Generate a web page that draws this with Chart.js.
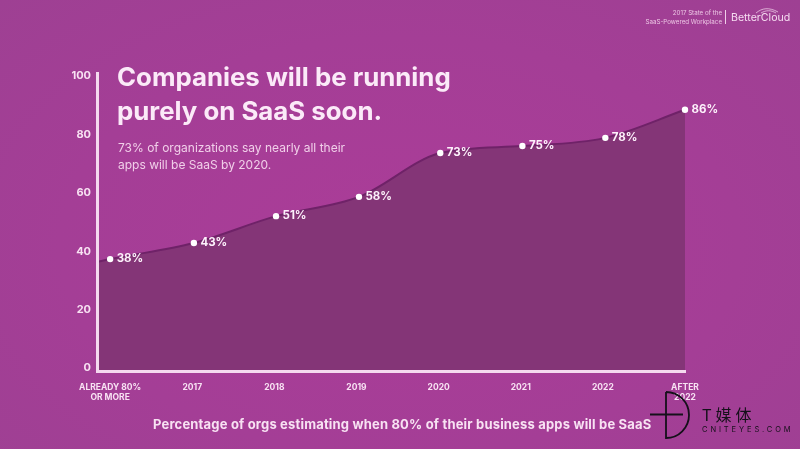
<!DOCTYPE html>
<html>
<head>
<meta charset="utf-8">
<script src="https://cdn.jsdelivr.net/npm/chart.js@4"></script>
<style>
  html, body { margin: 0; padding: 0; }
  #stage {
    position: relative; width: 800px; height: 449px; overflow: hidden;
    background: radial-gradient(ellipse at 50% 55%, #ab3c98 0%, #a43e96 60%, #9e4093 100%);
    font-family: Inter, sans-serif;
  }
  #chart { position: absolute; left: 0; top: 0; }
  .txt { position: absolute; white-space: nowrap; }
  #title { left: 117px; top: 60px; font-size: 25.8px; line-height: 34px; font-weight: 700; color: #fbeaf8; }
  #sub { left: 118px; top: 140px; font-size: 12px; line-height: 16.5px; color: #f1cfe9; }
  #caption { left: 153px; top: 416px; font-size: 13px; letter-spacing: 0.18px; font-weight: 700; color: #f8e2f3; }
  #hdr { right: 78px; top: 9px; font-size: 6.2px; line-height: 8.5px; text-align: right; color: #ecc6e4; }
  #sep { position: absolute; left: 725px; top: 10px; width: 1px; height: 14px; background: #f0cfe9; }
  #brand { left: 731px; top: 11px; font-size: 10.6px; color: #f6dcf1; }
  #swoosh { position: absolute; left: 755px; top: 7px; }
  #wmA { left: 702px; top: 402px; font-family: "Noto Sans CJK SC"; font-size: 16px; letter-spacing: 4px; color: #15101a; }
  #wmB { left: 702px; top: 425px; font-size: 7.5px; letter-spacing: 2.9px; color: #15101a; }
  #logo { position: absolute; left: 645px; top: 388px; }
</style>
</head>
<body>
<div id="stage">
  <canvas id="chart" width="800" height="449"></canvas>
  <div class="txt" id="title">Companies will be running<br>purely on SaaS soon.</div>
  <div class="txt" id="sub">73% of organizations say nearly all their<br>apps will be SaaS by 2020.</div>
  <div class="txt" id="caption">Percentage of orgs estimating when 80% of their business apps will be SaaS</div>
  <div class="txt" id="hdr">2017 State of the<br>SaaS-Powered Workplace</div>
  <div id="sep"></div>
  <div class="txt" id="brand">BetterCloud</div>
  <svg id="swoosh" width="26" height="8" viewBox="0 0 26 8" fill="none" stroke="#f6dcf1" stroke-width="0.7">
    <path d="M1 6 C7 1 14 0 23 5"/>
    <path d="M6 6 C11 3 16 3 21 6"/>
  </svg>
  <svg id="logo" width="50" height="54" viewBox="645 388 50 54" fill="none" stroke="#15101a" stroke-width="1.8">
    <path d="M666 392 V438 A23 23 0 0 0 666 392"/>
    <path d="M650 414.5 H683"/>
  </svg>
  <div class="txt" id="wmA">T媒体</div>
  <div class="txt" id="wmB">CNITEYES.COM</div>
</div>
<script>
// categories and ticks
const categories = [['ALREADY 80%', 'OR MORE'], '2017', '2018', '2019', '2020', '2021', '2022', ['AFTER', '2022']];
const yTicks = [0, 20, 40, 60, 80, 100];

// values as printed, and where each point actually sits in the picture
const printedValues = [38, 43, 51, 58, 73, 75, 78, 86];
const plottedValues = [37.3, 42.8, 52, 58.6, 73.6, 76, 78.8, 88.4];
const plottedSlots = [0, 1.02, 2.02, 3.03, 4.02, 5.02, 6.03, 7];
const leadIn = { x: -0.16, y: 36.3 };

const COLORS = {
  axis: '#f5d9ef',
  tick: '#f8e2f3',
  fill: '#843577',
  line: '#6f2268',
  point: '#ffffff',
  label: '#fdf1fb',
};
const FONT = 'Inter, sans-serif';

const linePoints = [leadIn].concat(plottedValues.map((v, i) => ({ x: plottedSlots[i], y: v })));

const valueLabels = {
  id: 'valueLabels',
  afterDatasetsDraw(chart) {
    const { ctx } = chart;
    const pts = chart.getDatasetMeta(0).data;
    ctx.save();
    ctx.font = '700 11.5px ' + FONT;
    ctx.fillStyle = COLORS.label;
    ctx.textBaseline = 'middle';
    printedValues.forEach((v, i) => {
      const p = pts[i + 1];
      ctx.fillText(v + '%', p.x + 6.5, p.y - 0.5);
    });
    ctx.restore();
  },
};

new Chart(document.getElementById('chart'), {
  type: 'line',
  data: {
    datasets: [{
      data: linePoints,
      clip: false,
      borderColor: COLORS.line,
      borderWidth: 2,
      backgroundColor: COLORS.fill,
      fill: 'start',
      cubicInterpolationMode: 'monotone',
      pointBackgroundColor: COLORS.point,
      pointBorderWidth: 0,
      pointRadius: ctx => (ctx.dataIndex === 0 ? 0 : 3.2),
    }],
  },
  options: {
    responsive: false,
    animation: false,
    layout: { padding: { left: 0, top: 73, right: 115, bottom: 18 } },
    plugins: { legend: { display: false }, tooltip: { enabled: false } },
    scales: {
      x: {
        type: 'linear',
        min: leadIn.x,
        max: categories.length - 1,
        afterBuildTicks: s => { s.ticks = categories.map((c, i) => ({ value: i })); },
        afterFit: s => { s.height = 60; },
        grid: { display: false },
        border: { color: COLORS.axis, width: 3, z: 1 },
        ticks: {
          autoSkip: false,
          maxRotation: 0,
          padding: 4,
          color: COLORS.tick,
          font: { family: FONT, size: 8.5, weight: '700', lineHeight: 1.1 },
          callback: v => categories[v],
        },
      },
      y: {
        min: -1,
        max: 101,
        afterBuildTicks: s => { s.ticks = yTicks.map(v => ({ value: v })); },
        afterFit: s => { s.width = 97; },
        grid: { display: false, drawTicks: false },
        border: { color: COLORS.axis, width: 3, z: 1 },
        ticks: {
          padding: 6,
          color: COLORS.tick,
          font: { family: FONT, size: 11, weight: '700' },
        },
      },
    },
  },
  plugins: [valueLabels],
});
</script>
</body>
</html>
